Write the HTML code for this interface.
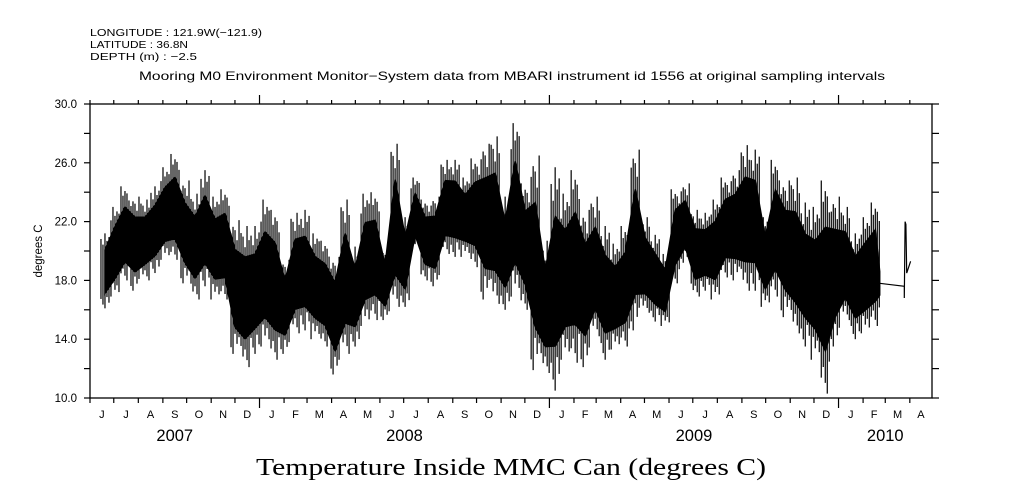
<!DOCTYPE html>
<html><head><meta charset="utf-8"><style>
html,body{margin:0;padding:0;background:#fff;}
svg{display:block;font-family:"Liberation Sans",sans-serif;}
</style></head><body>
<svg id="chart" width="1009" height="504" viewBox="0 0 1009 504" xmlns="http://www.w3.org/2000/svg">
<rect x="0" y="0" width="1009" height="504" fill="#fff"/>
<text x="90" y="36" font-size="10.5" textLength="172" lengthAdjust="spacingAndGlyphs">LONGITUDE : 121.9W(−121.9)</text>
<text x="90" y="48" font-size="10.5" textLength="98" lengthAdjust="spacingAndGlyphs">LATITUDE : 36.8N</text>
<text x="90" y="60" font-size="10.5" textLength="107" lengthAdjust="spacingAndGlyphs">DEPTH (m) : −2.5</text>
<text x="139" y="80" font-size="12" textLength="746" lengthAdjust="spacingAndGlyphs">Mooring M0 Environment Monitor−System data from MBARI instrument id 1556 at original sampling intervals</text>
<text x="256" y="475" font-size="24" textLength="510" lengthAdjust="spacingAndGlyphs" font-family="'Liberation Serif',serif">Temperature Inside MMC Can (degrees C)</text>
<text transform="translate(42,251) rotate(-90)" font-size="11.5" text-anchor="middle">degrees C</text>
<g id="axes"></g>
<g id="series"></g>
</svg>
<script>
// ---- data ----
const startDate = "2007-06-01";
const endDate = "2010-04-29";
const firstBinDay = 18.9;     // days after startDate of first bin
const binStepDays = 12.63;
const binHigh = [21.2,23.0,24.4,23.7,23.5,24.4,25.7,26.6,24.8,23.9,25.5,23.7,24.2,22.1,21.7,21.7,23.5,22.8,19.4,22.6,22.8,21.2,20.7,19.6,23.5,20.3,23.9,24.0,20.1,27.3,22.3,25.0,23.5,23.7,26.2,26.2,25.0,26.3,27.3,27.8,23.7,28.7,24.6,26.5,20.7,25.7,23.9,25.5,22.8,23.7,21.7,20.5,21.7,26.9,22.3,21.1,19.8,24.2,24.6,22.8,22.6,23.5,25.0,25.5,27.2,26.9,22.3,26.2,24.8,25.0,23.3,23.0,24.8,23.7,23.0,21.2,22.3,23.3];
const binLow  = [16.1,16.9,18.0,17.3,18.0,18.5,19.4,19.4,17.8,16.7,17.6,16.7,16.7,13.0,12.1,13.0,13.5,12.6,13.0,14.4,14.6,14.0,13.5,11.6,13.0,13.5,14.9,15.3,15.3,16.2,16.2,20.1,18.0,17.6,19.8,19.6,19.6,18.9,16.7,16.4,16.0,16.9,16.0,11.9,11.7,10.5,12.6,12.4,12.1,14.2,12.6,13.3,13.5,14.6,15.8,15.2,14.9,17.8,19.2,16.9,17.3,16.7,18.2,18.0,17.3,17.3,16.2,16.9,15.5,14.4,13.5,12.6,10.3,13.5,15.3,14.0,14.4,14.9];
const tailDays = [997, 1028, 1028, 1029, 1030, 1031, 1036];
const tailVals = [17.8, 17.6, 16.8, 22.0, 21.8, 18.5, 19.3];
const yTicks = [10,12,14,16,18,20,22,24,26,28,30];
const yLabels = ["10.0","14.0","18.0","22.0","26.0","30.0"];
const monthLetters = ["J","F","M","A","M","J","J","A","S","O","N","D"];

// ---- scales ----
const X0=90, X1=932, Y0=398, Y1=104;
const t0 = Date.parse(startDate+"T00:00:00Z"), t1 = Date.parse(endDate+"T00:00:00Z");
const totalDays = (t1-t0)/864e5;
function xDay(d){ return X0 + d/totalDays*(X1-X0); }
function xDate(dt){ return xDay((dt - t0)/864e5); }
function yVal(v){ return Y0 - (v-10)/20*(Y0-Y1); }
const NS="http://www.w3.org/2000/svg";
function mk(tag, attrs, parent){ const e=document.createElementNS(NS,tag); for(const k in attrs) e.setAttribute(k,attrs[k]); parent.appendChild(e); return e; }
const axes=document.getElementById('axes'), series=document.getElementById('series');

const frame = mk('rect',{x:X0,y:Y1,width:X1-X0,height:Y0-Y1,fill:'none',stroke:'#000','stroke-width':1.3},axes);



yTicks.forEach(v=>{
  const y=yVal(v);
  const l=mk('line',{x1:X0-6,x2:X0,y1:y,y2:y,stroke:'#000','stroke-width':1.2},axes);
  
  
  const r=mk('line',{x1:X1,x2:X1+7,y1:y,y2:y,stroke:'#000','stroke-width':1.2},axes);
  
  
});
yLabels.forEach(s=>{
  const t=mk('text',{x:X0-13,y:yVal(parseFloat(s))+4,'font-size':11.5,'text-anchor':'end'},axes);
  t.textContent=s;
  
  
});

const sd=new Date(t0);
let yy=sd.getUTCFullYear(), mm=sd.getUTCMonth();
const yearSpans={};
while(true){
  const ms=Date.UTC(yy,mm,1), me=Date.UTC(yy,mm+1,1);
  if(ms>t1) break;
  const x=xDate(ms), xe=Math.min(xDate(me),X1);
  const isYear = mm===0;
  const tb=mk('line',{x1:x,x2:x,y1:Y0,y2:Y0+(isYear?10:5),stroke:'#000','stroke-width':1.2},axes);
  
  
  const tt=mk('line',{x1:x,x2:x,y1:Y1-(isYear?9:4),y2:Y1,stroke:'#000','stroke-width':1.2},axes);
  
  
  if(xe-x>10){
    const lb=mk('text',{x:(x+xe)/2,y:418,'font-size':11,'text-anchor':'middle'},axes);
    lb.textContent=monthLetters[mm];
    
    
  }
  if(!yearSpans[yy]) yearSpans[yy]=[Math.max(x,X0),xe]; else yearSpans[yy][1]=xe;
  mm++; if(mm>11){mm=0;yy++;}
}
Object.keys(yearSpans).forEach(k=>{
  const s=yearSpans[k];
  const t=mk('text',{x:(s[0]+s[1])/2,y:441,'font-size':16.5,'text-anchor':'middle'},axes);
  t.textContent=k;
  
  
});

const binX = binHigh.map((_,i)=>xDay(firstBinDay+i*binStepDays));
let up=[], dn=[];
binHigh.forEach((h,i)=>{
  const l=binLow[i], r=h-l;
  up.push(binX[i].toFixed(1)+','+yVal(h-0.22*r).toFixed(1));
  dn.push(binX[i].toFixed(1)+','+yVal(l+0.2*r).toFixed(1));
});
const lastX = xDay(tailDays[0]);
up.push(lastX.toFixed(1)+','+yVal(tailVals[0]+0.8).toFixed(1));
dn.push(lastX.toFixed(1)+','+yVal(tailVals[0]-0.8).toFixed(1));
const poly=mk('polygon',{points:up.concat(dn.reverse()).join(' '),fill:'#000',stroke:'#000','stroke-width':1.5},series);


const spikeOffsets=[-4,-2,0,2,4];
const spikeHiFrac=[0.85,0.7,1,0.8,0.9];
const spikeLoFrac=[0.75,0.9,1,0.7,0.85];
binHigh.forEach((h,i)=>{
  const l=binLow[i], m=(h+l)/2;
  spikeOffsets.forEach((dx,j)=>{
    const ln=mk('line',{x1:binX[i]+dx,x2:binX[i]+dx,y1:yVal(m+(h-m)*spikeHiFrac[(j+i)%5]),y2:yVal(m-(m-l)*spikeLoFrac[(j+2*i)%5]),stroke:'#000','stroke-width':1.2},series);
    
    
  });
});
const tail=mk('polyline',{points:tailDays.map((d,i)=>xDay(d).toFixed(1)+','+yVal(tailVals[i]).toFixed(1)).join(' '),fill:'none',stroke:'#000','stroke-width':1.2},series);


</script>
</body></html>
